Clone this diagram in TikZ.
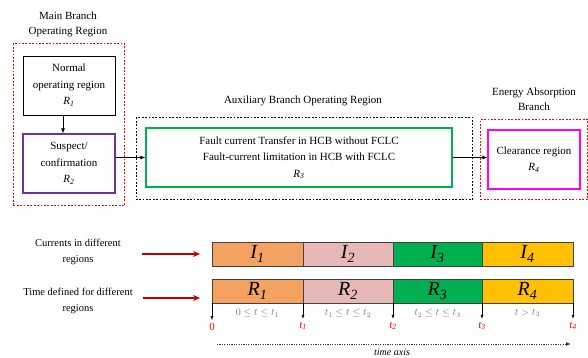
\documentclass[tikz,border=0pt]{standalone}
\usepackage{fontspec}
\setmainfont{Liberation Serif}
\usepackage{tikz}
\usetikzlibrary{arrows.meta,positioning,fit}
\definecolor{suspectpurple}{RGB}{112,48,160}
\definecolor{hcbgreen}{RGB}{0,176,80}
\definecolor{clearpink}{RGB}{255,0,255}
\definecolor{barorange}{RGB}{244,162,97}
\definecolor{barpink}{RGB}{230,185,184}
\definecolor{bargreen}{RGB}{0,176,80}
\definecolor{baryellow}{RGB}{255,192,0}
\definecolor{arrowred}{RGB}{192,0,0}
\definecolor{axisblue}{RGB}{31,56,100}
\newcommand{\regsub}[2]{\textit{#1\textsubscript{#2}}}
\tikzset{
    regionbox/.style={draw, line width=0.8pt, align=center, font=\fontsize{11}{16.5}\selectfont, minimum width=92pt, minimum height=59pt, inner sep=2pt},
    headlbl/.style={align=center, font=\fontsize{11}{15}\selectfont},
    sidelbl/.style={align=center, font=\fontsize{10.5}{16}\selectfont},
    branchframe/.style={draw=red, line width=1.5pt, dash pattern=on 1.8pt off 1.6pt},
    auxframe/.style={draw=black, line width=1.6pt, dash pattern=on 1.8pt off 1.6pt},
    flowarrow/.style={-{Latex[length=5pt,width=4pt]}, line width=0.8pt},
    redarrow/.style={-{Stealth[length=7pt,width=6pt]}, line width=1.4pt, draw=arrowred},
    barseg/.style={draw=black!75, line width=0.8pt, minimum height=24pt, inner sep=0pt, outer sep=0pt, font=\fontsize{20}{20}\selectfont},
    tickarrow/.style={-{Latex[length=4pt,width=3pt]}, line width=0.6pt, shorten >=2pt},
    ticklbl/.style={text=red, inner sep=1pt, font=\fontsize{11}{12}\selectfont},
    intlbl/.style={text=black!55, inner sep=1pt, font=\fontsize{10}{11}\selectfont},
    axisarrow/.style={-{Latex[length=5pt,width=4pt]}, draw=axisblue, line width=1pt, dash pattern=on 1.2pt off 1.2pt}
}
\begin{document}
\begin{tikzpicture}[x=1pt, y=-1pt]
        \useasboundingbox (0,0) rectangle (588,358);

        % branch diagram
        \node[headlbl] (mainlbl) at (68,24) {Main Branch\\Operating Region};
        \node[regionbox] (normal) at (69,85.5) {Normal\\operating region\\\regsub{R}{1}};
        \node[regionbox, draw=suspectpurple, line width=1.2pt] (suspect) at (69,163.5) {Suspect/\\confirmation\\\regsub{R}{2}};
        \node[branchframe, fit=(normal)(suspect), inner xsep=9pt, inner ysep=12pt] (mainframe) {};

        \node[headlbl] (auxlbl) at (303,101) {Auxiliary Branch Operating Region};
        \node[regionbox, draw=hcbgreen, line width=1.2pt, minimum width=306pt] (hcb) at (299,157.5) {Fault current Transfer in HCB without FCLC\\Fault-current limitation in HCB with FCLC\\\regsub{R}{3}};
        \draw[auxframe] ([xshift=-9pt,yshift=10pt]hcb.north west) rectangle ([xshift=20pt,yshift=-12pt]hcb.south east);

        \node[headlbl] (energylbl) at (534,99) {Energy Absorption\\Branch};
        \node[regionbox, draw=clearpink, line width=1.2pt] (clear) at (534,159.5) {Clearance region\\\regsub{R}{4}};
        \node[branchframe, fit=(clear), inner xsep=7pt, inner ysep=10pt] (clearframe) {};

        \draw[flowarrow] ([xshift=-6pt]normal.south) -- ([xshift=-6pt]suspect.north);
        \draw[flowarrow] (suspect.east |- hcb.west) -- (hcb.west);
        \draw[flowarrow] (hcb.east) -- (clear.west |- hcb.east);

        % bars
        \node[sidelbl] (curlbl) at (78,252) {Currents in different\\regions};
        \node[barseg, fill=barorange, minimum width=91pt, anchor=west] (i1) at (212,254) {\regsub{I}{1}};
        \node[barseg, fill=barpink, minimum width=90pt, right=0pt of i1] (i2) {\regsub{I}{2}};
        \node[barseg, fill=bargreen, minimum width=89pt, right=0pt of i2] (i3) {\regsub{I}{3}};
        \node[barseg, fill=baryellow, minimum width=91pt, right=0pt of i3] (i4) {\regsub{I}{4}};

        \node[sidelbl] (timelbl) at (78,301) {Time defined for different\\regions};
        \node[barseg, fill=barorange, minimum width=91pt, anchor=west] (r1) at (212,291) {\regsub{R}{1}};
        \node[barseg, fill=barpink, minimum width=90pt, right=0pt of r1] (r2) {\regsub{R}{2}};
        \node[barseg, fill=bargreen, minimum width=89pt, right=0pt of r2] (r3) {\regsub{R}{3}};
        \node[barseg, fill=baryellow, minimum width=91pt, right=0pt of r3] (r4) {\regsub{R}{4}};

        \draw[redarrow] ([xshift=-70pt]i1.west) -- ([xshift=-12pt]i1.west);
        \draw[redarrow] ([xshift=-69pt,yshift=-7pt]r1.west) -- ([xshift=-12pt,yshift=-7pt]r1.west);

        % time marks
        \node[ticklbl] (z0) at (212,327) {0};
        \node[ticklbl] (z1) at (303,326) {\regsub{t}{1}};
        \node[ticklbl] (z2) at (393,326) {\regsub{t}{2}};
        \node[ticklbl] (z3) at (482,326) {\regsub{t}{3}};
        \node[ticklbl] (z4) at (573,326) {\regsub{t}{4}};
        \draw[tickarrow] (r1.south west) -- (z0.north);
        \draw[tickarrow] (r1.south east) -- (z1.north);
        \draw[tickarrow] (r2.south east) -- (z2.north);
        \draw[tickarrow] (r3.south east) -- (z3.north);
        \draw[tickarrow] (r4.south east) -- (z4.north);

        \node[intlbl, below=5pt of r1] (p1) {$0\le t\le t_1$};
        \node[intlbl, below=5pt of r2] (p2) {$t_1\le t\le t_2$};
        \node[intlbl, below=5pt of r3] (p3) {$t_2\le t\le t_3$};
        \node[intlbl, below=5pt of r4] (p4) {$t > t_3$};

        \coordinate (axstart) at (217,344);
        \coordinate (axend) at (571,344);
        \draw[axisarrow] (axstart) -- (axend);
        \node[font=\fontsize{10}{12}\selectfont\itshape, inner sep=1pt] (axlbl) at (392,352) {time axis};
    \end{tikzpicture}
\end{document}
